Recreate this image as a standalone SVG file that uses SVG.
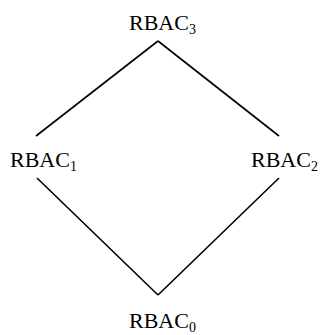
<svg xmlns="http://www.w3.org/2000/svg" width="324" height="335" viewBox="0 0 324 335">
<style>
.lbl{font-family:"Liberation Serif","Times New Roman",serif;font-size:22px;fill:#000}
.sub{font-size:14px}
.edge{stroke:#000;stroke-width:1.6;fill:none}
</style>
<rect width="324" height="335" fill="#fff"/>
<g id="connectors">
<line class="edge" x1="36" y1="136" x2="158" y2="41"/>
<line class="edge" x1="158" y1="41" x2="279" y2="136"/>
<line class="edge" x1="37" y1="178" x2="158" y2="295"/>
<line class="edge" x1="158" y1="295" x2="279" y2="178"/>
</g>
<g id="rbac3"><text class="lbl" x="129" y="30">RBAC<tspan class="sub" dy="4">3</tspan></text></g>
<g id="rbac1"><text class="lbl" x="10" y="167">RBAC<tspan class="sub" dy="4">1</tspan></text></g>
<g id="rbac2"><text class="lbl" x="251" y="167">RBAC<tspan class="sub" dy="4">2</tspan></text></g>
<g id="rbac0"><text class="lbl" x="129" y="328">RBAC<tspan class="sub" dy="4">0</tspan></text></g>
</svg>
